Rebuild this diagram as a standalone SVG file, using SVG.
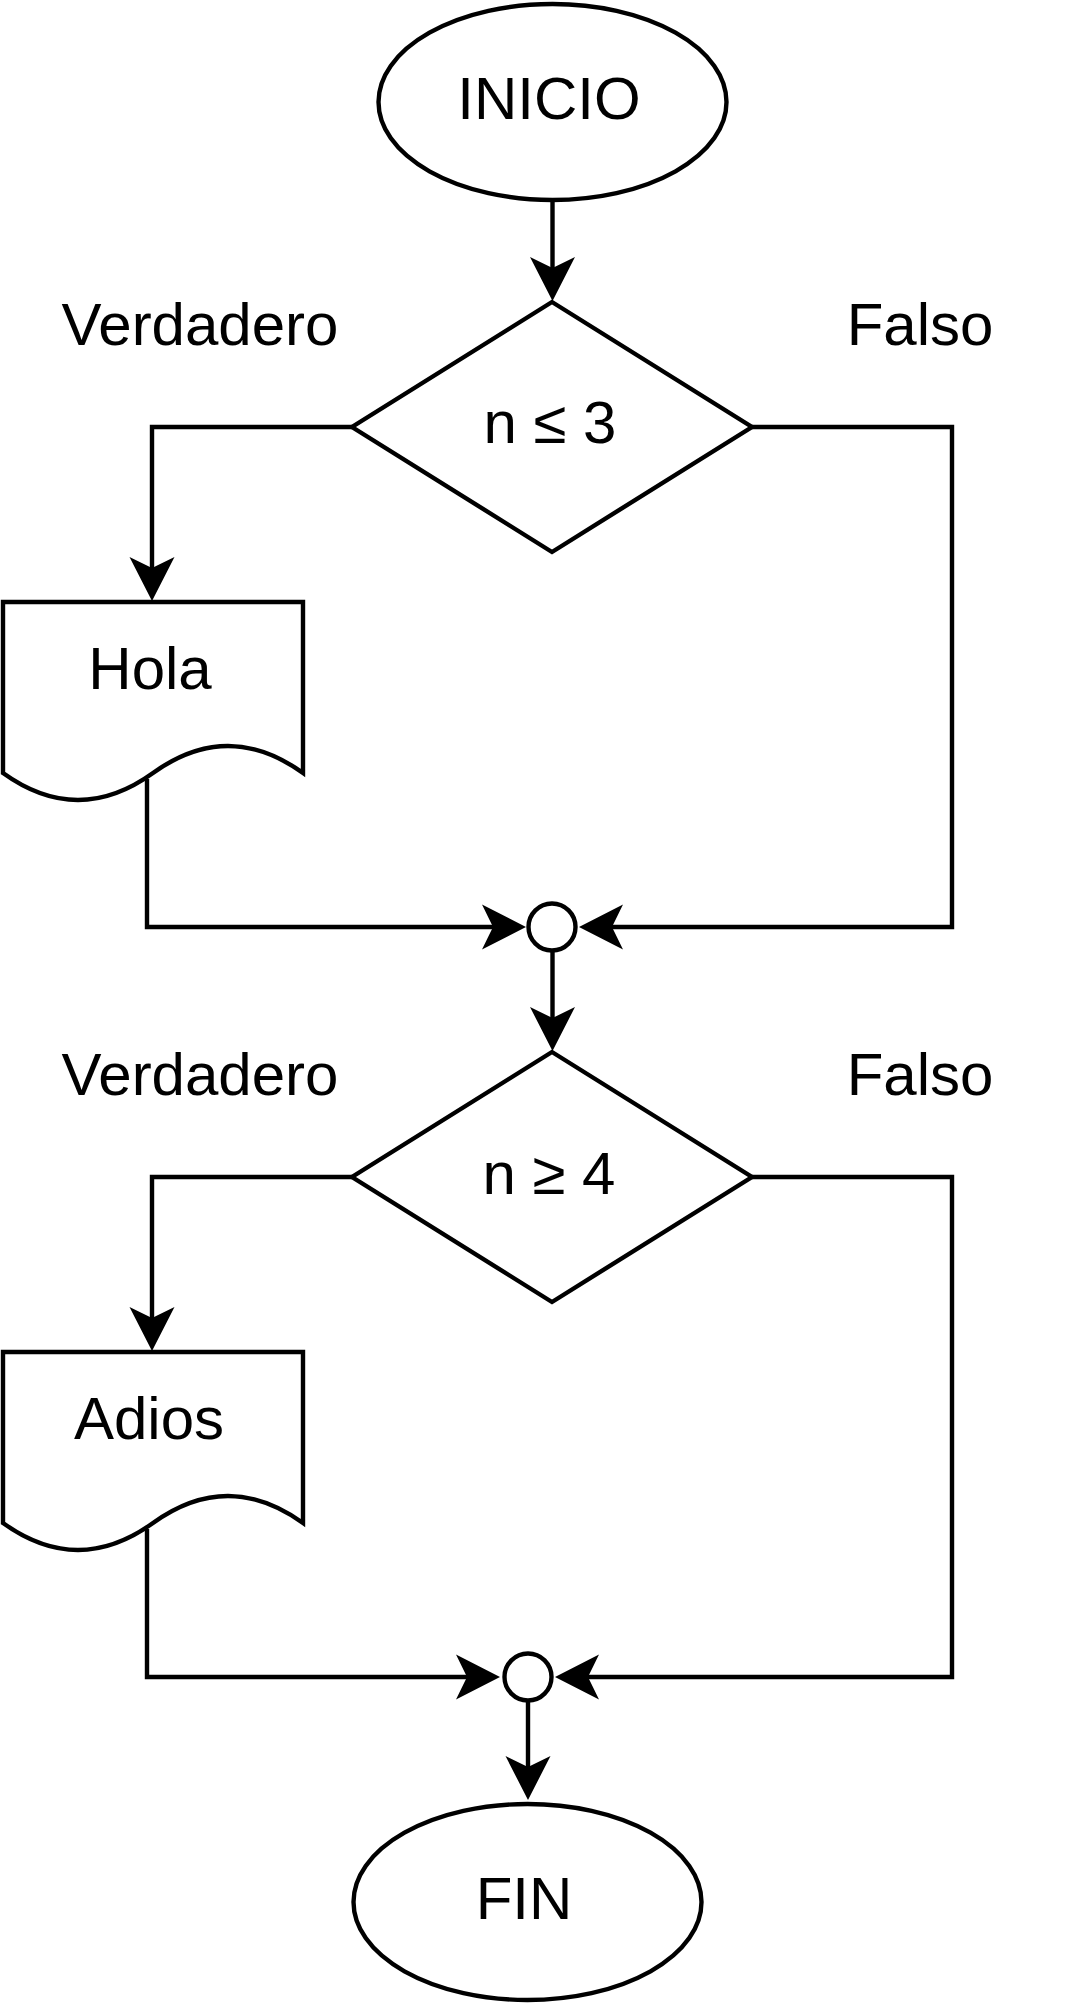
<svg xmlns="http://www.w3.org/2000/svg" width="1075" height="2010" viewBox="0 0 1075 2010">
  <style>
    .shape { fill: #ffffff; stroke: #000000; stroke-width: 4.4; }
    .edge { fill: none; stroke: #000000; stroke-width: 4.4; }
    .lbl { font-family: "Liberation Sans", Arial, sans-serif; font-size: 60px; fill: #000000; text-anchor: middle; }
  </style>
  <defs>
    <marker id="arrow" viewBox="0 -25 46 50" markerWidth="46" markerHeight="50" refX="14" refY="0" markerUnits="userSpaceOnUse" orient="auto">
      <path d="M0,-22.5 L44,0 L0,22.5 L11,0 Z" fill="#000000"/>
    </marker>
  </defs>
  <rect width="1075" height="2010" fill="#ffffff"/>

  <g id="connectors">
    <path class="edge" d="M552.5,202 V271" marker-end="url(#arrow)"/>
    <path class="edge" d="M352,427 H152 V571" marker-end="url(#arrow)"/>
    <path class="edge" d="M752,427 H952 V927 H609" marker-end="url(#arrow)"/>
    <path class="edge" d="M147,779 V927 H496" marker-end="url(#arrow)"/>
    <path class="edge" d="M552.5,950 V1021" marker-end="url(#arrow)"/>
    <path class="edge" d="M352,1177 H152 V1321" marker-end="url(#arrow)"/>
    <path class="edge" d="M752,1177 H952 V1677 H585" marker-end="url(#arrow)"/>
    <path class="edge" d="M147,1529 V1677 H470" marker-end="url(#arrow)"/>
    <path class="edge" d="M528,1700 V1770" marker-end="url(#arrow)"/>
  </g>

  <g id="inicio">
    <ellipse class="shape" cx="552.5" cy="102" rx="174" ry="98"/>
    <text class="lbl" x="549" y="119">INICIO</text>
  </g>

  <g id="decision1">
    <path class="shape" d="M552,302 L752,427 L552,552 L352,427 Z"/>
    <text class="lbl" x="550" y="443">n ≤ 3</text>
  </g>

  <g id="label-verdadero1"><text class="lbl" x="200" y="345">Verdadero</text></g>
  <g id="label-falso1"><text class="lbl" x="920" y="345">Falso</text></g>

  <g id="hola">
    <path class="shape" d="M3,602 H303 V773 Q228,719 153,773 Q78,827 3,773 Z"/>
    <text class="lbl" x="150" y="689">Hola</text>
  </g>

  <g id="junction1">
    <circle class="shape" cx="552" cy="927" r="23.5"/>
  </g>

  <g id="decision2">
    <path class="shape" d="M552,1052 L752,1177 L552,1302 L352,1177 Z"/>
    <text class="lbl" x="549" y="1194">n ≥ 4</text>
  </g>

  <g id="label-verdadero2"><text class="lbl" x="200" y="1095">Verdadero</text></g>
  <g id="label-falso2"><text class="lbl" x="920" y="1095">Falso</text></g>

  <g id="adios">
    <path class="shape" d="M3,1352 H303 V1523 Q228,1469 153,1523 Q78,1577 3,1523 Z"/>
    <text class="lbl" x="149" y="1439">Adios</text>
  </g>

  <g id="junction2">
    <circle class="shape" cx="528" cy="1677" r="23.5"/>
  </g>

  <g id="fin">
    <ellipse class="shape" cx="527.5" cy="1902" rx="174" ry="98"/>
    <text class="lbl" x="524" y="1919">FIN</text>
  </g>
</svg>
